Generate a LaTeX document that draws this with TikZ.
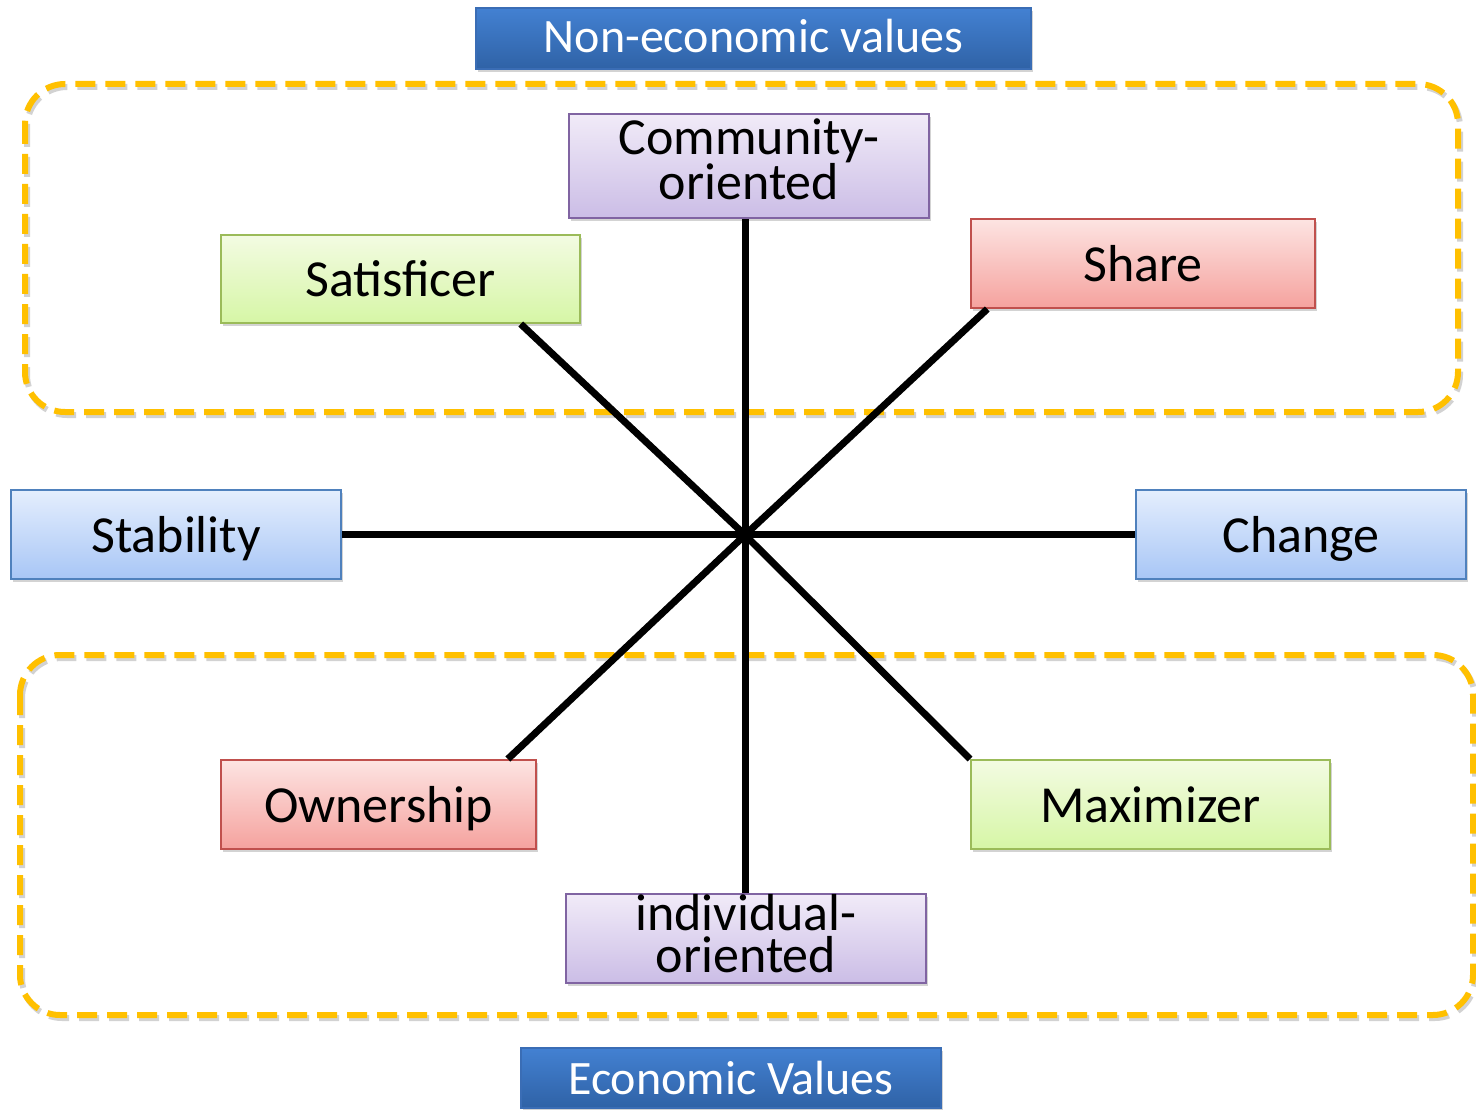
\documentclass[tikz,border=0pt]{standalone}
\usepackage{fontspec}
\setmainfont{Carlito}
\usetikzlibrary{shadows,calc}
\definecolor{orng}{HTML}{FFC000}
\definecolor{ttop}{HTML}{4381D2}
\definecolor{tbot}{HTML}{2F62A6}
\definecolor{tbrd}{HTML}{3A6DB5}
\definecolor{ptop}{HTML}{F1EBF8}
\definecolor{pbot}{HTML}{CBBDE6}
\definecolor{pbrd}{HTML}{8064A2}
\definecolor{gtop}{HTML}{F3FBE2}
\definecolor{gbot}{HTML}{D6F6A6}
\definecolor{gbrd}{HTML}{9BBB59}
\definecolor{rtop}{HTML}{FDE4E2}
\definecolor{rbot}{HTML}{F5A29E}
\definecolor{rbrd}{HTML}{C0504D}
\definecolor{btop}{HTML}{E4EEFD}
\definecolor{bbot}{HTML}{A8C6F6}
\definecolor{bbrd}{HTML}{4F81BD}
\tikzset{
  boxbase/.style={draw, line width=2pt, inner sep=0pt, align=center,
    drop shadow={opacity=0.35, shadow xshift=2pt, shadow yshift=-3pt},
    font=\fontsize{52}{42}\selectfont, text height=36pt, text depth=0pt},
  twoline/.style={text height=68pt, text depth=0pt},
  titlebox/.style={boxbase, line width=1.2pt, draw=tbrd, top color=ttop, bottom color=tbot,
    text=white, font=\fontsize{48}{48}\selectfont},
  purplebox/.style={boxbase, draw=pbrd, top color=ptop, bottom color=pbot},
  greenbox/.style={boxbase, draw=gbrd, top color=gtop, bottom color=gbot},
  redbox/.style={boxbase, draw=rbrd, top color=rtop, bottom color=rbot},
  bluebox/.style={boxbase, draw=bbrd, top color=btop, bottom color=bbot},
  groupframe/.style={draw=orng, line width=6pt, rounded corners=40pt, dash pattern=on 20pt off 10pt},
  groupshadow/.style={draw=black!35, opacity=0.5, line width=6pt, rounded corners=40pt, dash pattern=on 20pt off 10pt},
  axis/.style={line width=7pt, black}
}
\begin{document}
\begin{tikzpicture}[x=1pt,y=-1pt]
\useasboundingbox (0,0) rectangle (1476,1110);
% group frames
\draw[groupshadow] (27,87) rectangle (1460,415);
\draw[groupshadow] (22,658) rectangle (1475,1018);
\draw[groupframe] (25,84) rectangle (1458,412);
\draw[groupframe] (20,655) rectangle (1473,1015);
% title boxes
\node[titlebox, text height=29pt, minimum width=555pt, minimum height=61pt] (noneco) at (753.5,38.5) {Non-economic values};
\node[titlebox, text height=32pt, minimum width=420pt, minimum height=60pt] (eco) at (731,1078) {Economic Values};
% centre
\coordinate (c) at (745,535);
% value boxes
\node[purplebox, twoline, minimum width=360pt, minimum height=104pt] (comm) at (749,166) {Community-\\oriented};
\node[greenbox, minimum width=359pt, minimum height=88pt] (sat) at (400.5,279) {Satisficer};
\node[redbox, minimum width=344pt, minimum height=89pt] (share) at (1143,263.5) {Share};
\node[bluebox, minimum width=330pt, minimum height=89pt] (stab) at (176,534.5) {Stability};
\node[bluebox, minimum width=330pt, minimum height=89pt] (chg) at (1301,534.5) {Change};
\node[redbox, minimum width=315pt, minimum height=89pt] (own) at (378.5,804.5) {Ownership};
\node[greenbox, minimum width=359pt, minimum height=89pt] (max) at (1150.5,804.5) {Maximizer};
\node[purplebox, twoline, minimum width=360pt, minimum height=89pt] (indiv) at (746,938.5) {individual-\\oriented};
% axes
\draw[axis] (comm.south -| c) -- (indiv.north -| c);
\draw[axis] (stab.east) -- (chg.west);
\draw[axis] ($(sat.south west)!0.833!(sat.south east)$) -- (c) -- (max.north west);
\draw[axis] ($(share.south west)!0.05!(share.south east)$) -- (c) -- ($(own.north west)!0.908!(own.north east)$);
\end{tikzpicture}
\end{document}
